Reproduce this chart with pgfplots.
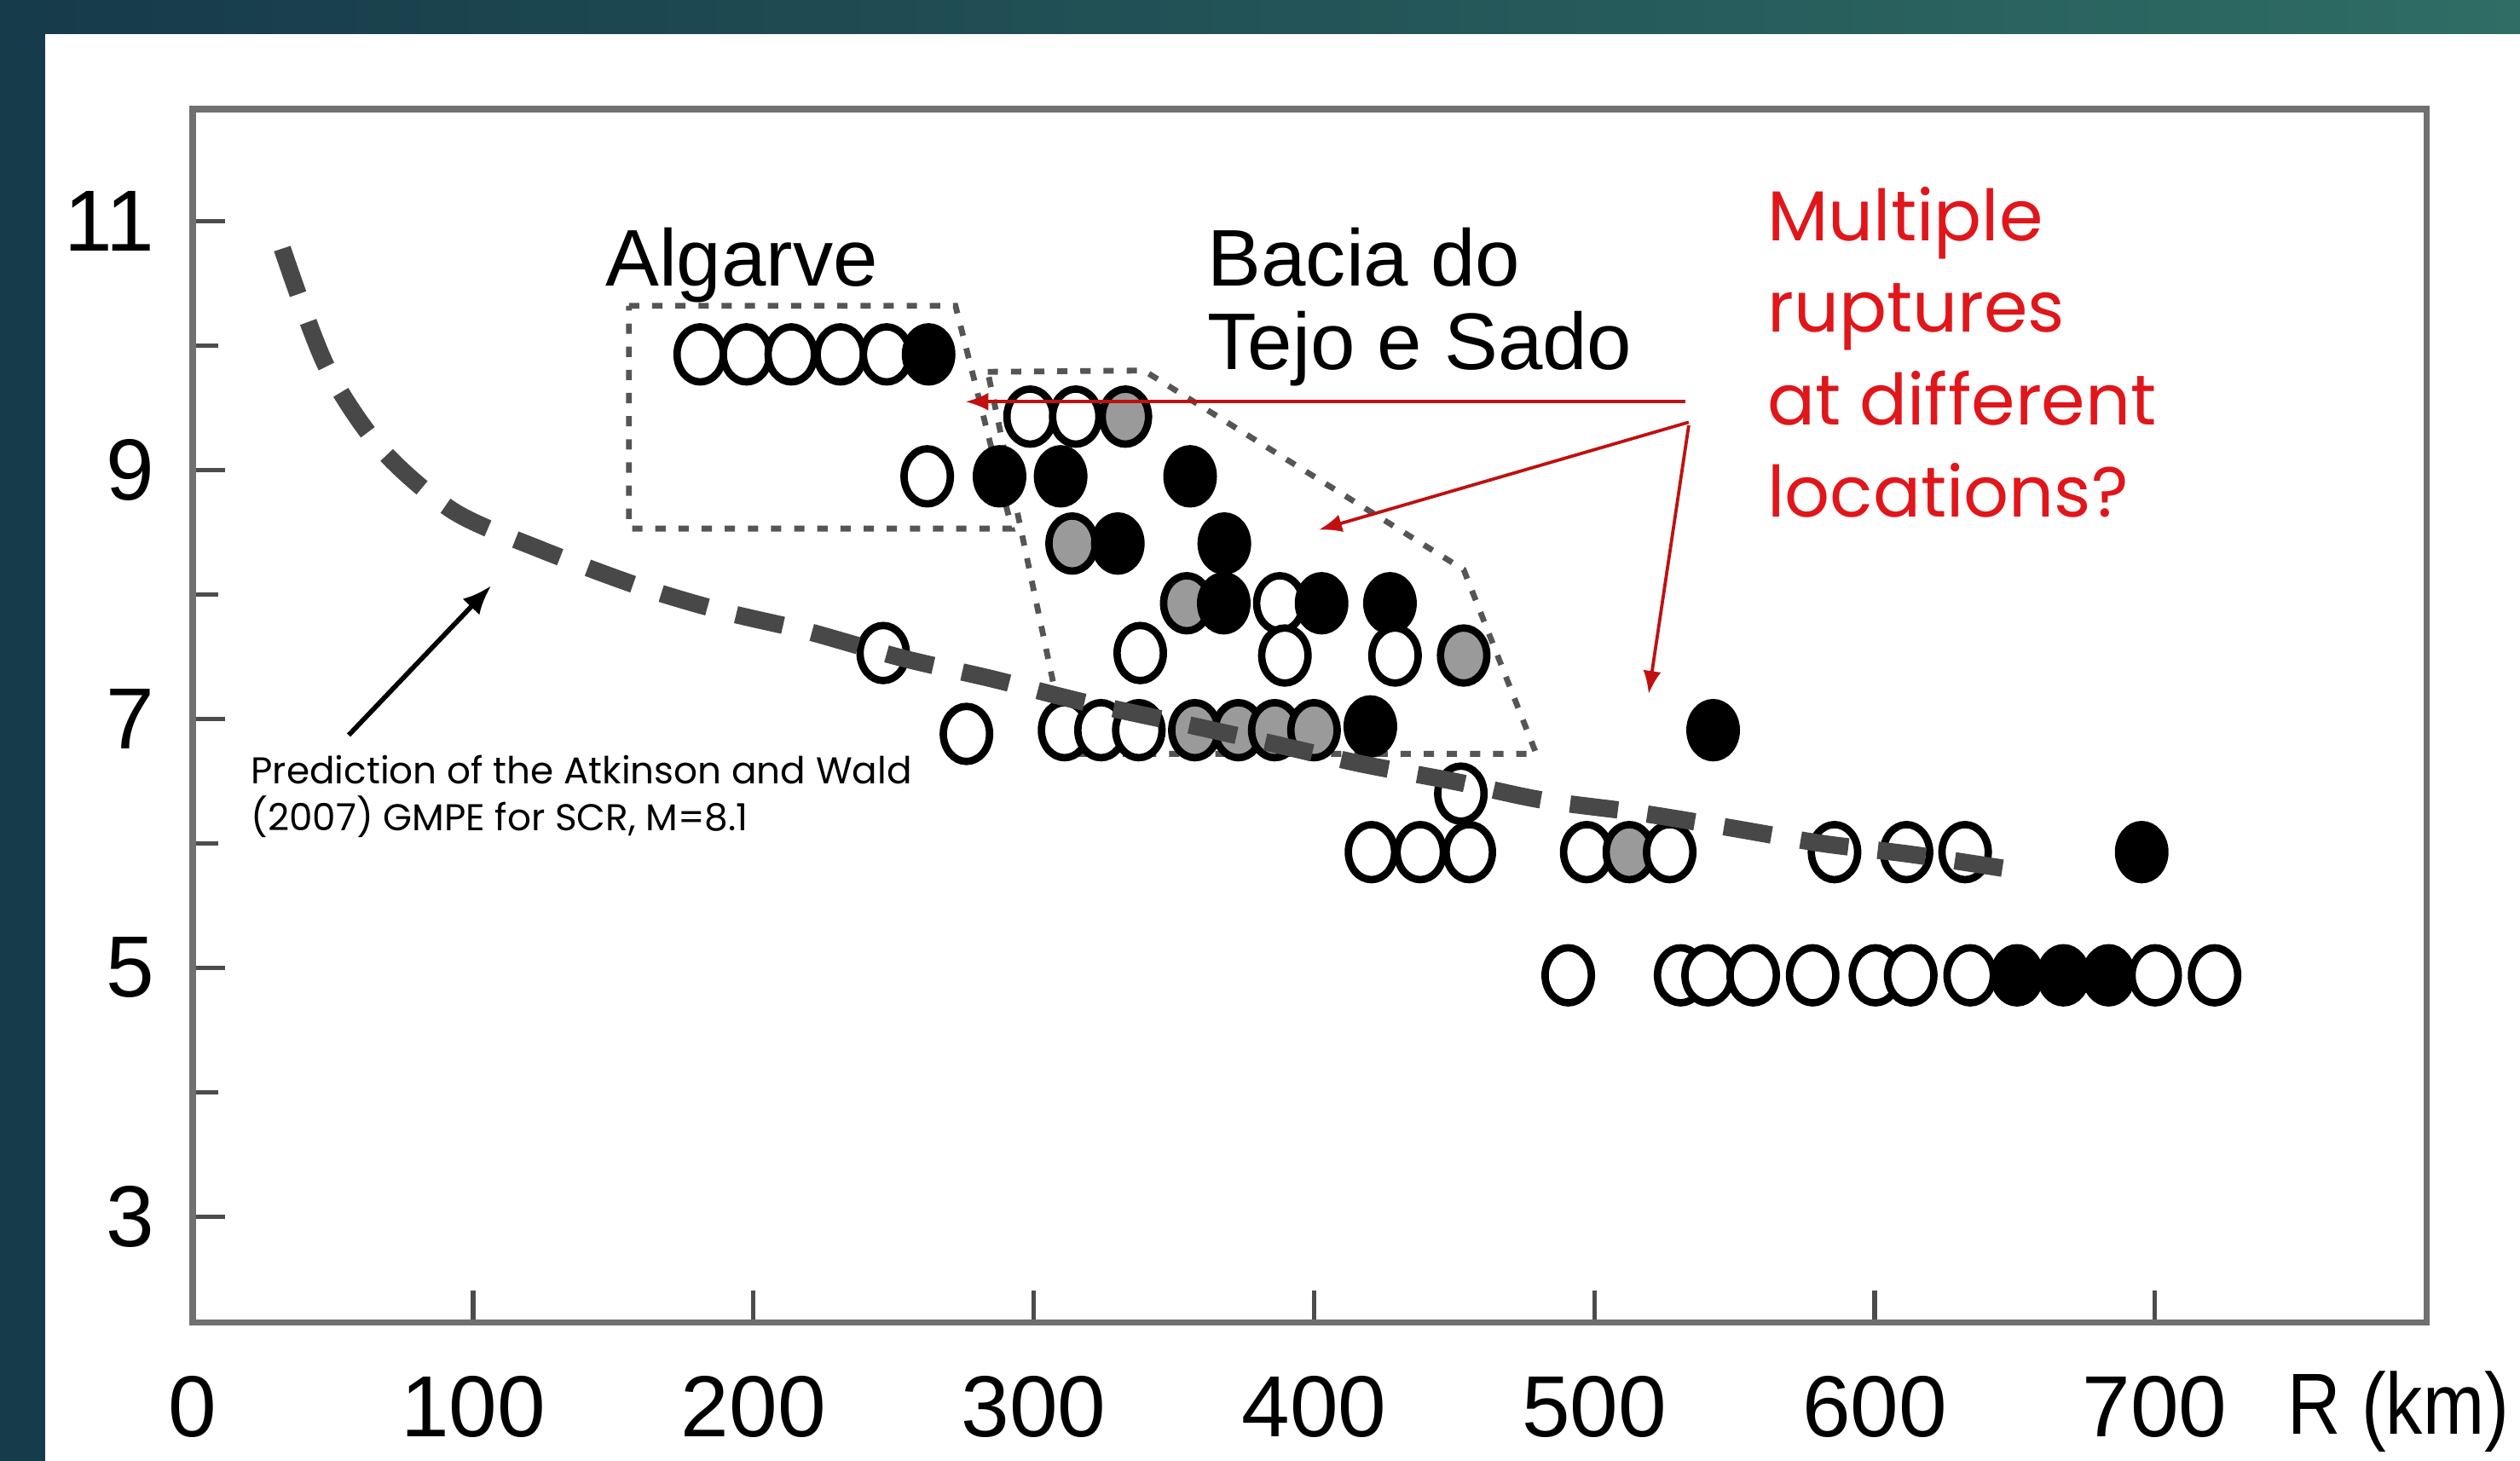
\documentclass[border=0pt]{standalone}
\usepackage{graphicx}
\usepackage{pgfplots}
\pgfplotsset{compat=1.18}
\usepackage{fontspec}
\setmainfont{Liberation Sans}
\newfontfamily\gothic{Poppins}
\usetikzlibrary{arrows.meta}
\definecolor{stripc}{HTML}{163B4B}
\definecolor{bandL}{HTML}{163A49}
\definecolor{bandR}{HTML}{2F6D65}
\definecolor{axgray}{HTML}{707070}
\definecolor{dashc}{HTML}{484848}
\definecolor{dotc}{HTML}{555555}
\definecolor{mgray}{HTML}{9A9A9A}
\definecolor{redtxt}{HTML}{E0161B}
\definecolor{redarr}{HTML}{C01010}

\pgfplotstableread{
x y c
181.0 9.93 o
197.5 9.93 o
213.5 9.93 o
231.0 9.93 o
247.5 9.93 o
262.5 9.93 b
298.7 9.43 o
315.0 9.43 o
332.7 9.43 g
262.0 8.95 o
287.8 8.95 b
309.6 8.95 b
355.8 8.95 b
313.7 8.41 g
330.0 8.41 b
368.0 8.41 b
354.6 7.93 g
367.8 7.93 b
387.8 7.93 o
402.7 7.93 b
427.1 7.93 b
246.3 7.53 o
338.0 7.53 o
389.6 7.51 o
428.9 7.51 o
453.4 7.51 g
276.0 6.88 o
311.0 6.91 o
324.0 6.91 o
337.5 6.91 o
357.5 6.91 g
373.0 6.91 g
386.0 6.91 g
400.0 6.91 g
420.1 6.94 b
542.4 6.91 b
452.4 6.40 o
420.5 5.93 o
437.9 5.93 o
455.4 5.93 o
497.3 5.93 o
512.5 5.93 g
526.9 5.93 o
585.7 5.93 o
611.4 5.93 o
632.3 5.93 o
695.3 5.93 b
490.7 4.94 o
530.8 4.94 o
540.6 4.94 o
556.7 4.94 o
577.9 4.94 o
600.3 4.94 o
612.9 4.94 o
634.1 4.94 o
650.8 4.94 b
667.4 4.94 b
683.5 4.94 b
700.1 4.94 o
721.3 4.94 o
}\events

\begin{document}
\begin{tikzpicture}
\path[use as bounding box] (-30pt,-21.5pt) rectangle (362pt,205.75pt);
\clip (-30pt,-21.5pt) rectangle (362pt,205.75pt);
\fill[white] (-30pt,-21.5pt) rectangle (362pt,205.75pt);
\shade[left color=bandL, right color=bandR] (-30pt,200.5pt) rectangle (362pt,205.75pt);
\fill[stripc] (-30pt,-21.5pt) rectangle (-23pt,205.75pt);
\begin{axis}[at={(0pt,0pt)}, anchor=south west, scale only axis,
  width=347.5pt, height=188.75pt,
  xmin=0, xmax=797, ymin=2.15, ymax=11.9,
  clip mode=individual,
  axis line style={draw=axgray, line width=1pt},
  xtick={0,100,...,700}, ytick={3,5,7,9,11}, minor ytick={4,6,8,10},
  tick pos=left, tick align=inside, major tick length=5pt, minor tick length=4pt,
  tick style={draw=black!70, line width=0.7pt},
  /pgf/number format/assume math mode=true,
  tick label style={font=\fontsize{13.5}{16}\selectfont, text=black},
  xticklabel style={yshift=-4.75pt},
  yticklabel style={xshift=-2.5pt},
]
% dotted region outlines
\addplot[dotc, line width=0.9pt, dash pattern=on 1.6pt off 2pt, no markers]
  coordinates {(155.6,10.32) (272.1,10.32) (292.2,8.53) (155.6,8.53) (155.6,10.32)};
\addplot[dotc, line width=0.9pt, dash pattern=on 1.6pt off 2pt, no markers]
  coordinates {(283.6,9.79) (339.3,9.80) (453.4,8.20) (479.3,6.72) (312.3,6.72) (283.6,9.79)};
% observations
\addplot[scatter, only marks, scatter src=explicit symbolic,
  scatter/classes={o={mark=*, draw=black, fill=white},
                   b={mark=*, draw=black, fill=black},
                   g={mark=*, draw=black, fill=mgray}},
  mark size=3.6pt, mark options={yscale=1.19, line width=1.15pt}]
  table[x=x, y=y, meta=c] {\events};
% GMPE prediction
\addplot[dashc, line width=2.7pt, dash pattern=on 7.5pt off 4.6pt, smooth, no markers]
  coordinates {(31.9,10.78) (47.5,9.84) (67.2,9.17) (93,8.67) (124.3,8.36) (160,8.06)
   (190,7.86) (218.4,7.71) (253,7.49) (285.6,7.32) (317,7.14) (353.8,6.96) (381.7,6.82)
   (416.7,6.64) (449.7,6.50) (481,6.35) (514.8,6.25) (547.4,6.13) (581.1,6.0)
   (613.7,5.91) (654.5,5.77)};
% labels
\node[anchor=base, inner sep=0pt, font=\fontsize{12.5}{15}\selectfont] at (axis cs:195.8,10.48) {Algarve};
\node[anchor=base west, inner sep=0pt, font=\fontsize{12.5}{15}\selectfont] at (axis cs:361.6,10.48) {Bacia do};
\node[anchor=base west, inner sep=0pt, font=\fontsize{12.5}{15}\selectfont] at (axis cs:361.6,9.81) {Tejo e Sado};
\node[anchor=base west, inner sep=0pt, text=redtxt, font=\gothic\fontsize{11}{13}\selectfont] at (axis cs:561.3,10.845) {Multiple};
\node[anchor=base west, inner sep=0pt, text=redtxt, font=\gothic\fontsize{11}{13}\selectfont] at (axis cs:561.3,10.11) {ruptures};
\node[anchor=base west, inner sep=0pt, text=redtxt, font=\gothic\fontsize{11}{13}\selectfont] at (axis cs:561.3,9.36) {at different};
\node[anchor=base west, inner sep=0pt, text=redtxt, font=\gothic\fontsize{11}{13}\selectfont] at (axis cs:561.3,8.62) {locations?};
\node[anchor=base west, inner sep=0pt, font=\gothic\fontsize{5.8}{7}\selectfont] at (axis cs:20.3,6.478) {Prediction of the Atkinson and Wald};
\node[anchor=base west, inner sep=0pt, font=\gothic\fontsize{5.8}{7}\selectfont] at (axis cs:20.3,6.10) {(2007) GMPE for SCR, M=8.1};
\node[anchor=base west, inner sep=0pt, font=\fontsize{13.5}{16}\selectfont] at (axis cs:747,1.25) {\scalebox{0.85}[1]{R (km)}};
% arrows
\draw[black, line width=0.75pt, -{Latex[length=4.5pt,width=3.6pt]}] (axis cs:55.6,6.87) -- (axis cs:106.4,8.07);
\draw[redarr, line width=0.5pt, -{Latex[length=3.6pt,width=2.8pt]}] (axis cs:532.6,9.55) -- (axis cs:275.6,9.55);
\draw[redarr, line width=0.5pt, -{Latex[length=3.6pt,width=2.8pt]}] (axis cs:533.7,9.385) -- (axis cs:401.7,8.52);
\draw[redarr, line width=0.5pt, -{Latex[length=3.6pt,width=2.8pt]}] (axis cs:533.7,9.36) -- (axis cs:519.4,7.20);
\end{axis}
\end{tikzpicture}
\end{document}
